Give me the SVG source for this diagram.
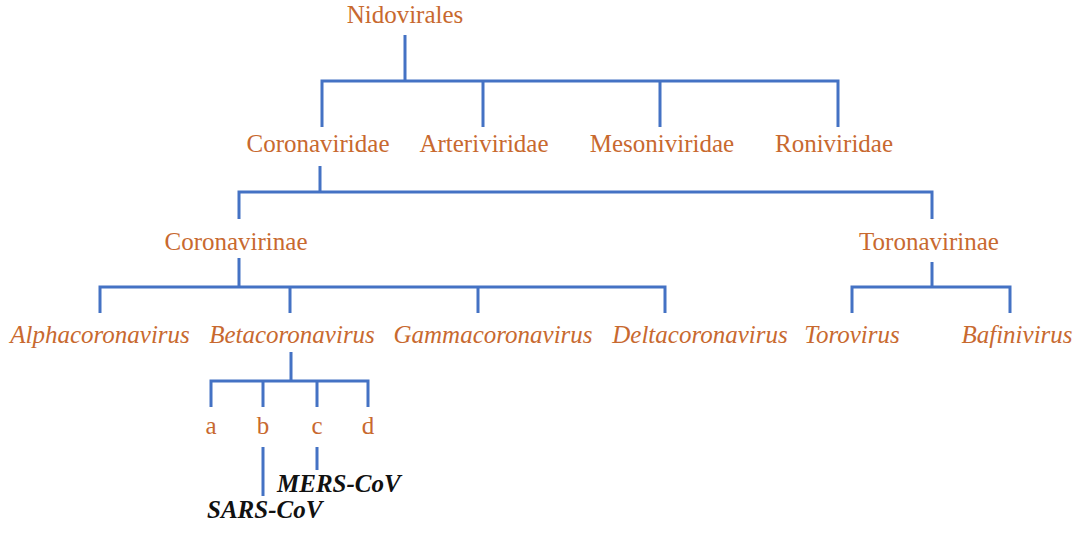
<svg xmlns="http://www.w3.org/2000/svg" width="1085" height="534" viewBox="0 0 1085 534">
<style>
.t{font-family:"Liberation Serif","Times New Roman",serif;font-size:25px;fill:#C8692F;text-anchor:middle}
.i{font-style:italic}
.k{font-family:"Liberation Serif","Times New Roman",serif;font-size:25px;font-style:italic;font-weight:bold;fill:#111;text-anchor:start}
.c{fill:none;stroke:#4472C4;stroke-width:3;stroke-linecap:butt;stroke-linejoin:miter}
</style>
<rect width="1085" height="534" fill="#fff"/>
<g id="connectors" class="c">
<path d="M405,35V81M322,127V81H838V127M483,81V127M660,81V127"/>
<path d="M320,166V192M239,219V192H932V219"/>
<path d="M239,258V287M100,313V287H665V313M290,287V313M478,287V313"/>
<path d="M932,262V287M852,313V287H1010V313"/>
<path d="M291,352V381M211,407V381H368V407M263,381V407M317,381V407"/>
<path d="M263,447V496M317,447V470"/>
</g>
<g id="n-nidovirales"><text class="t" x="405" y="23">Nidovirales</text></g>
<g id="n-coronaviridae"><text class="t" x="318" y="152">Coronaviridae</text></g>
<g id="n-arteriviridae"><text class="t" x="484" y="152">Arteriviridae</text></g>
<g id="n-mesoniviridae"><text class="t" x="662" y="152">Mesoniviridae</text></g>
<g id="n-roniviridae"><text class="t" x="834" y="152">Roniviridae</text></g>
<g id="n-coronavirinae"><text class="t" x="236" y="250">Coronavirinae</text></g>
<g id="n-toronavirinae"><text class="t" x="929" y="250">Toronavirinae</text></g>
<g id="n-alpha"><text class="t i" x="100" y="343">Alphacoronavirus</text></g>
<g id="n-beta"><text class="t i" x="292" y="343">Betacoronavirus</text></g>
<g id="n-gamma"><text class="t i" x="493" y="343">Gammacoronavirus</text></g>
<g id="n-delta"><text class="t i" x="700" y="343">Deltacoronavirus</text></g>
<g id="n-torovirus"><text class="t i" x="852" y="343">Torovirus</text></g>
<g id="n-bafinivirus"><text class="t i" x="1017" y="343">Bafinivirus</text></g>
<g id="n-a"><text class="t" x="211" y="434">a</text></g>
<g id="n-b"><text class="t" x="263" y="434">b</text></g>
<g id="n-c"><text class="t" x="317" y="434">c</text></g>
<g id="n-d"><text class="t" x="368" y="434">d</text></g>
<g id="n-mers"><text class="k" x="277" y="492">MERS-CoV</text></g>
<g id="n-sars"><text class="k" x="207" y="518">SARS-CoV</text></g>
</svg>
